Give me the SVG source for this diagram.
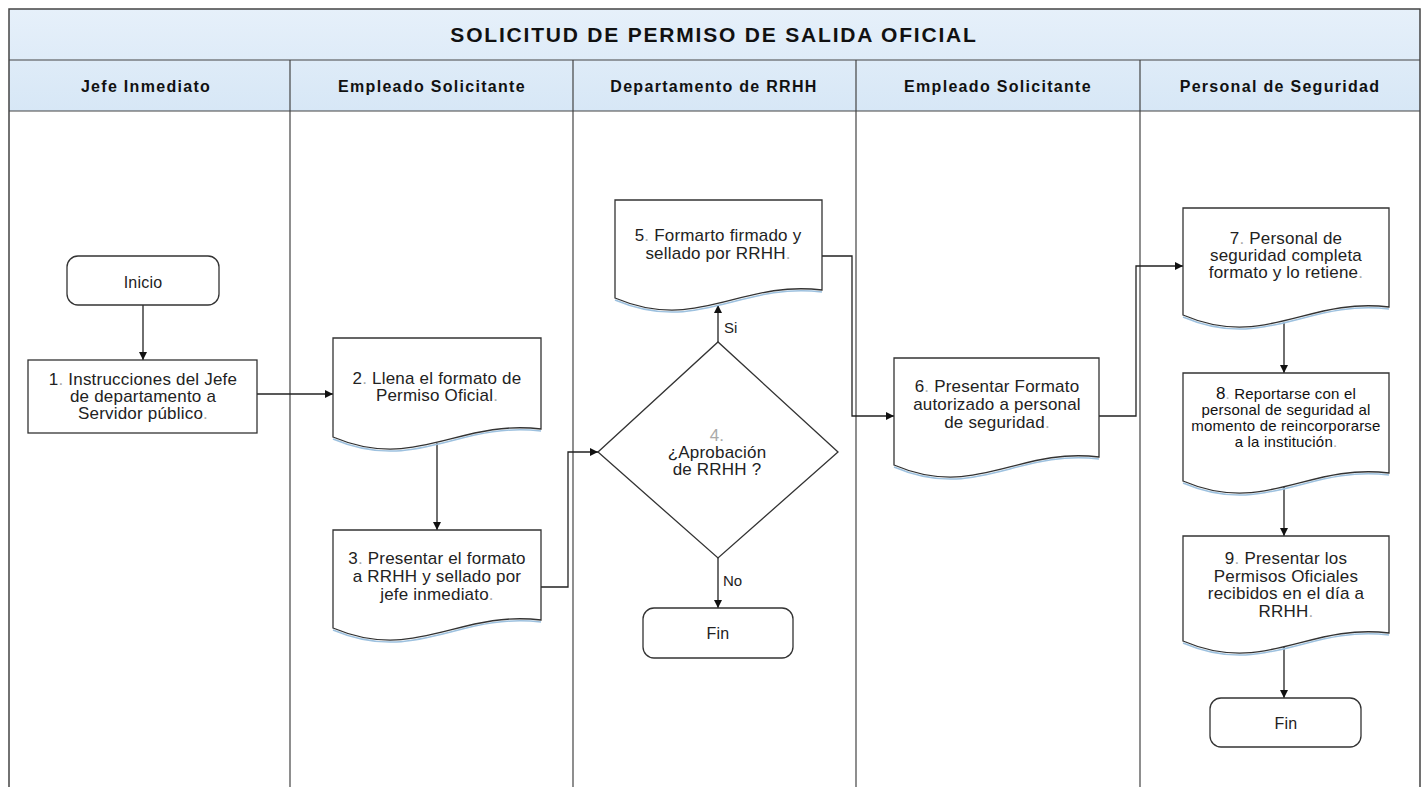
<svg xmlns="http://www.w3.org/2000/svg" width="1424" height="787" viewBox="0 0 1424 787">
<defs>
<marker id="arr" viewBox="0 0 10 10" refX="10" refY="5" markerWidth="9" markerHeight="8" markerUnits="userSpaceOnUse" orient="auto"><path d="M0,0 L10,5 L0,10 Z" fill="#111"/></marker>
<linearGradient id="hdr" x1="0" y1="0" x2="0" y2="1"><stop offset="0" stop-color="#e6f0fa"/><stop offset="1" stop-color="#d7e7f6"/></linearGradient>
</defs>
<style>
.frame{fill:none;stroke:#444;stroke-width:1.5}
.lane{stroke:#444;stroke-width:1.2}
.box{fill:#fff;stroke:#333;stroke-width:1.3}
.shadow{fill:none;stroke:#9dc1df;stroke-width:1.5}
.t{font-family:"Liberation Sans",Arial,sans-serif;font-size:17px;fill:#222;text-anchor:middle;letter-spacing:0.2px}
.s{font-size:15px;fill:#111}
.d{fill:#aaa}
.h{font-family:"Liberation Sans",Arial,sans-serif;font-size:16px;font-weight:bold;fill:#111;text-anchor:middle;letter-spacing:1.3px}
.ti{font-family:"Liberation Sans",Arial,sans-serif;font-size:21px;font-weight:bold;fill:#111;text-anchor:middle;letter-spacing:1.8px}
.c{fill:none;stroke:#222;stroke-width:1.3}
.ca{fill:none;stroke:#222;stroke-width:1.3;marker-end:url(#arr)}
.lbl{font-family:"Liberation Sans",Arial,sans-serif;font-size:15px;fill:#222}
</style>
<rect width="1424" height="787" fill="#fff"/>
<g id="frame">
<rect x="9" y="9" width="1411" height="102" fill="url(#hdr)"/>
<path class="frame" d="M9,787 V9 H1420 V787"/>
<line class="lane" x1="9" y1="60" x2="1420" y2="60"/>
<line class="lane" x1="9" y1="111" x2="1420" y2="111"/>
<line class="lane" x1="290" y1="60" x2="290" y2="787"/>
<line class="lane" x1="573" y1="60" x2="573" y2="787"/>
<line class="lane" x1="856" y1="60" x2="856" y2="787"/>
<line class="lane" x1="1140" y1="60" x2="1140" y2="787"/>
<text class="ti" x="714" y="42">SOLICITUD DE PERMISO DE SALIDA OFICIAL</text>
<text class="h" x="146" y="92">Jefe Inmediato</text>
<text class="h" x="432" y="92">Empleado Solicitante</text>
<text class="h" x="714" y="92">Departamento de RRHH</text>
<text class="h" x="998" y="92">Empleado Solicitante</text>
<text class="h" x="1280" y="92">Personal de Seguridad</text>
</g>
<g id="connectors">
<line class="ca" x1="143" y1="305" x2="143" y2="360"/>
<polyline class="ca" points="257,394 333,394"/>
<line class="ca" x1="437" y1="443" x2="437" y2="530"/>
<polyline class="ca" points="541,587 568,587 568,452 598,452"/>
<line class="ca" x1="718" y1="342" x2="718" y2="305"/>
<line class="ca" x1="718" y1="558" x2="718" y2="608"/>
<polyline class="ca" points="822,256 852,256 852,416 894,416"/>
<polyline class="ca" points="1099,416 1136,416 1136,266 1183,266"/>
<line class="ca" x1="1284" y1="322" x2="1284" y2="373"/>
<line class="ca" x1="1284" y1="487" x2="1284" y2="536"/>
<line class="ca" x1="1284" y1="647" x2="1284" y2="698"/>
<text class="lbl" x="724" y="333">Si</text>
<text class="lbl" x="723" y="586">No</text>
</g>
<g id="inicio">
<rect class="box" x="67" y="256" width="152" height="49" rx="11"/>
<text class="t" x="143" y="288" style="font-size:16px">Inicio</text>
</g>
<g id="n1">
<rect class="box" x="28" y="360" width="229" height="73"/>
<text class="t" x="143" y="385">1<tspan class="d">.</tspan> Instrucciones del Jefe</text>
<text class="t" x="143" y="402">de departamento a</text>
<text class="t" x="143" y="419">Servidor público<tspan class="d">.</tspan></text>
</g>
<g id="n2">
<path class="shadow" d="M541,431 C458,421 416,474 333,439"/>
<path class="box" d="M333,338 H541 V429 C458,419 416,472 333,437 Z"/>
<text class="t" x="437" y="384">2<tspan class="d">.</tspan> Llena el formato de</text>
<text class="t" x="437" y="401">Permiso Oficial<tspan class="d">.</tspan></text>
</g>
<g id="n3">
<path class="shadow" d="M541,622 C458,612 416,665 333,630"/>
<path class="box" d="M333,530 H541 V620 C458,610 416,663 333,628 Z"/>
<text class="t" x="437" y="564">3<tspan class="d">.</tspan> Presentar el formato</text>
<text class="t" x="437" y="582">a RRHH y sellado por</text>
<text class="t" x="437" y="600">jefe inmediato<tspan class="d">.</tspan></text>
</g>
<g id="n4">
<path class="box" d="M598,452 L718,342 L838,452 L718,558 Z"/>
<text class="t" x="717" y="441"><tspan class="d">4.</tspan></text>
<text class="t" x="717" y="458">¿Aprobación</text>
<text class="t" x="717" y="475">de RRHH ?</text>
</g>
<g id="n5">
<path class="shadow" d="M822,292 C739,282 698,335 615,300"/>
<path class="box" d="M615,200 H822 V290 C739,280 698,333 615,298 Z"/>
<text class="t" x="718" y="241">5<tspan class="d">.</tspan> Formarto firmado y</text>
<text class="t" x="718" y="259">sellado por RRHH<tspan class="d">.</tspan></text>
</g>
<g id="fin1">
<rect class="box" x="643" y="608" width="150" height="50" rx="11"/>
<text class="t" x="718" y="639" style="font-size:16px">Fin</text>
</g>
<g id="n6">
<path class="shadow" d="M1099,459 C1017,449 976,502 894,467"/>
<path class="box" d="M894,358 H1099 V457 C1017,447 976,500 894,465 Z"/>
<text class="t" x="997" y="392">6<tspan class="d">.</tspan> Presentar Formato</text>
<text class="t" x="997" y="410">autorizado a personal</text>
<text class="t" x="997" y="428">de seguridad<tspan class="d">.</tspan></text>
</g>
<g id="n7">
<path class="shadow" d="M1389,309 C1307,299 1265,352 1183,317"/>
<path class="box" d="M1183,208 H1389 V307 C1307,297 1265,350 1183,315 Z"/>
<text class="t" x="1286" y="244">7<tspan class="d">.</tspan> Personal de</text>
<text class="t" x="1286" y="261">seguridad completa</text>
<text class="t" x="1286" y="278">formato y lo retiene<tspan class="d">.</tspan></text>
</g>
<g id="n8">
<path class="shadow" d="M1389,475 C1307,465 1265,518 1183,483"/>
<path class="box" d="M1183,373 H1389 V473 C1307,463 1265,516 1183,481 Z"/>
<text class="t s" x="1286" y="399"><tspan style="font-size:17px">8</tspan><tspan class="d">.</tspan> Reportarse con el</text>
<text class="t s" x="1286" y="415">personal de seguridad al</text>
<text class="t s" x="1286" y="431">momento de reincorporarse</text>
<text class="t s" x="1286" y="447">a la institución<tspan class="d">.</tspan></text>
</g>
<g id="n9">
<path class="shadow" d="M1389,635 C1307,625 1265,678 1183,643"/>
<path class="box" d="M1183,536 H1389 V633 C1307,623 1265,676 1183,641 Z"/>
<text class="t" x="1286" y="564">9<tspan class="d">.</tspan> Presentar los</text>
<text class="t" x="1286" y="582">Permisos Oficiales</text>
<text class="t" x="1286" y="599">recibidos en el día a</text>
<text class="t" x="1286" y="617">RRHH<tspan class="d">.</tspan></text>
</g>
<g id="fin2">
<rect class="box" x="1210" y="698" width="151" height="49" rx="11"/>
<text class="t" x="1286" y="729" style="font-size:16px">Fin</text>
</g>
</svg>
